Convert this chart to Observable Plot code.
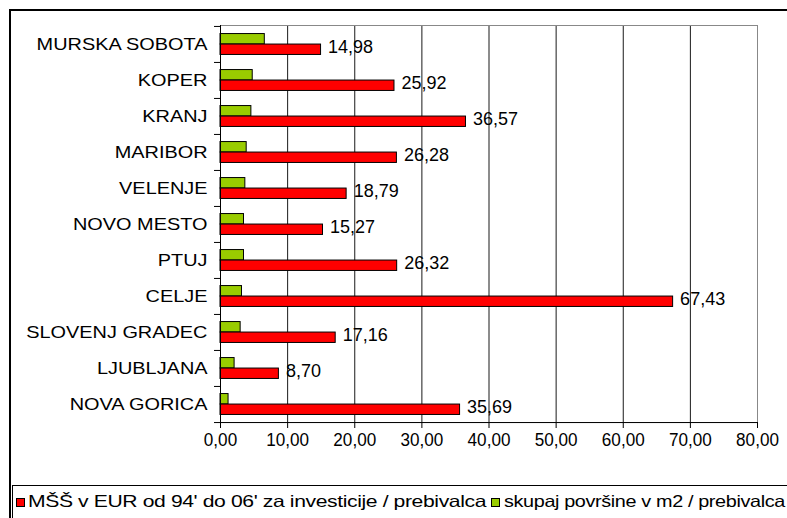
<!DOCTYPE html>
<html>
<head>
<meta charset="utf-8">
<script src="https://cdn.jsdelivr.net/npm/d3@7"></script>
<script src="https://cdn.jsdelivr.net/npm/@observablehq/plot@0.6"></script>
<style>
  html, body { margin: 0; padding: 0; background: #fff; }
  #wrap { position: relative; width: 787px; height: 518px; overflow: hidden; background: #fff; font-family: "Liberation Sans", Arial, sans-serif; }
  #frame { position: absolute; left: 9px; top: 9px; width: 820px; height: 560px; border: 2px solid #000; box-sizing: border-box; }
  #chart { position: absolute; left: 0; top: 0; }
  #legend { position: absolute; left: 12px; top: 485px; width: 820px; height: 60px; border: 1px solid #000; box-sizing: border-box; background: #fff; }
  .sw { position: absolute; top: 12px; width: 9px; height: 9px; border: 1px solid #000; box-sizing: border-box; }
  .lt { position: absolute; top: 6px; font-size: 16.5px; white-space: nowrap; transform-origin: left center; letter-spacing: -0.3px; color: #000; }
</style>
</head>
<body>
<div id="wrap">
  <div id="frame"></div>
  <div id="chart"></div>
  <div id="legend"></div>
</div>
<script>
const cities = ["MURSKA SOBOTA","KOPER","KRANJ","MARIBOR","VELENJE","NOVO MESTO","PTUJ","CELJE","SLOVENJ GRADEC","LJUBLJANA","NOVA GORICA"];
const investment = [14.98,25.92,36.57,26.28,18.79,15.27,26.32,67.43,17.16,8.70,35.69];
const area = [6.6,4.8,4.6,3.9,3.7,3.5,3.5,3.2,3.0,2.1,1.2];
const xTicks = [0,10,20,30,40,50,60,70,80];
const seriesNames = ["MŠŠ v EUR od 94' do 06' za investicije / prebivalca", "skupaj površine v m2 / prebivalca"];
const seriesColors = ["#FF0000", "#99CC00"];

const data = cities.map((c, i) => ({city: c, inv: investment[i], area: area[i]}));
const fmt = v => d3.format(".2f")(v).replace(".", ",");

const svg = Plot.plot({
  width: 787,
  height: 485,
  marginLeft: 220,
  marginRight: 30,
  marginTop: 25,
  marginBottom: 63,
  style: {fontFamily: "'Liberation Sans', Arial, sans-serif", fontSize: "16px", color: "#000", background: "transparent"},
  x: {domain: [0, 80], label: null},
  y: {domain: cities, paddingInner: 0, paddingOuter: 0, label: null},
  marks: [
    Plot.gridX(xTicks.slice(1), {stroke: "#000", strokeOpacity: 0.9}),
    Plot.frame({stroke: "#888"}),
    Plot.barX(data, {x: "area", y: "city", fill: seriesColors[1], stroke: "#000", strokeWidth: 1, insetTop: 12.8, insetBottom: 12.8, dy: -5.25}),
    Plot.barX(data, {x: "inv", y: "city", fill: seriesColors[0], stroke: "#000", strokeWidth: 1, insetTop: 12.8, insetBottom: 12.8, dy: 5.25}),
    Plot.text(data, {x: "inv", y: "city", text: d => fmt(d.inv), textAnchor: "start", dx: 7, dy: 3, fontSize: 18, fill: "#000", style: {letterSpacing: "-0.4px"}}),
    Plot.ruleX([0], {stroke: "#000"}),
    Plot.ruleY([cities[cities.length - 1]], {x1: 0, x2: 80, dy: 18.05, stroke: "#000"}),
    Plot.axisX({ticks: xTicks, tickFormat: fmt, tickSize: 6, tickPadding: 5, fontSize: 18, stroke: "#000", label: null}),
    Plot.axisY({tickSize: 0, tickPadding: 13, fontSize: 17, label: null}),
    Plot.axisY({tickSize: 6, tickFormat: () => "", dy: -18.05, stroke: "#000", label: null}),
    Plot.axisY([cities[cities.length - 1]], {tickSize: 6, tickFormat: () => "", dy: 18.05, stroke: "#000", label: null})
  ]
});
document.getElementById("chart").append(svg);

// horizontal stretch of category labels to match the reference's wide lettering
svg.querySelectorAll('g[aria-label="y-axis tick label"] text').forEach(t => {
  const w = t.getComputedTextLength();
  if (w > 0) {
    t.setAttribute("textLength", (w * 1.17).toFixed(1));
    t.setAttribute("lengthAdjust", "spacingAndGlyphs");
  }
});
// x tick labels: slightly tighter spacing
svg.querySelectorAll('g[aria-label="x-axis tick label"] text').forEach(t => {
  const w = t.getComputedTextLength();
  if (w > 0) {
    t.setAttribute("textLength", (w * 0.95).toFixed(1));
    t.setAttribute("lengthAdjust", "spacingAndGlyphs");
  }
});

// legend
const legend = document.getElementById("legend");
const swX = [3, 478];
const txX = [15, 491];
const stretch = [1.28, 1.2];
seriesNames.forEach((name, i) => {
  const sw = document.createElement("div");
  sw.className = "sw";
  sw.style.left = swX[i] + "px";
  sw.style.background = seriesColors[i];
  legend.append(sw);
  const t = document.createElement("div");
  t.className = "lt";
  t.style.left = txX[i] + "px";
  t.style.transform = `scaleX(${stretch[i]})`;
  t.textContent = name;
  legend.append(t);
});
</script>
</body>
</html>
